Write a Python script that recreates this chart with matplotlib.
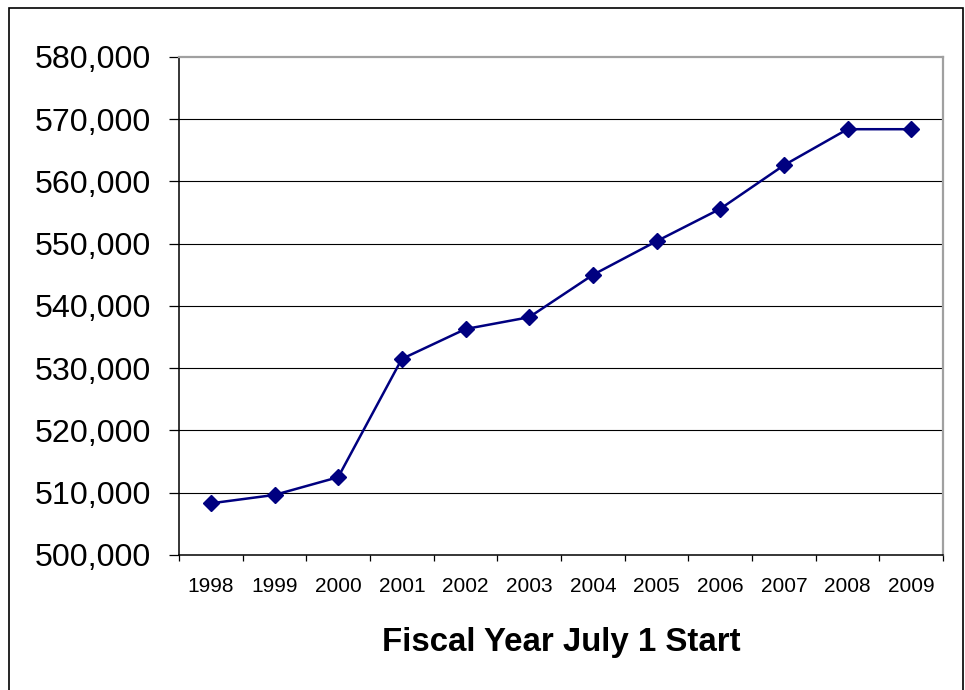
import matplotlib
matplotlib.use("Agg")
import matplotlib.pyplot as plt
from matplotlib.patches import Rectangle
from matplotlib.ticker import FuncFormatter, FixedLocator

plt.rcParams['font.family'] = ['Liberation Sans', 'DejaVu Sans']

years = ['1998', '1999', '2000', '2001', '2002', '2003',
         '2004', '2005', '2006', '2007', '2008', '2009']
enrollment = [508300, 509650, 512500, 531500, 536300, 538200,
              545000, 550400, 555600, 562600, 568400, 568400]
y_ticks = [500000, 510000, 520000, 530000, 540000, 550000, 560000, 570000, 580000]
x_title = 'Fiscal Year July 1 Start'

fig = plt.figure(figsize=(9.65, 6.9), dpi=100)
ax = fig.add_axes([179 / 965, 1 - 555 / 690, (943 - 179) / 965, (555 - 57) / 690])

# outer chart frame (open at the bottom edge of the image)
frame = Rectangle((9 / 965, -0.05), (962.5 - 9) / 965, 1.05 - 7.5 / 690,
                  transform=fig.transFigure, fill=False, edgecolor='black',
                  linewidth=1.2, clip_on=False)
fig.patches.append(frame)

x = list(range(len(years)))
ax.plot(x, enrollment, color='#000080', linewidth=1.8, marker='D',
        markersize=7.8, markerfacecolor='#000080', markeredgecolor='#000080',
        zorder=3)

ax.set_xlim(-0.5, len(years) - 0.5)
ax.set_ylim(y_ticks[0], y_ticks[-1])

ax.set_yticks(y_ticks)
ax.yaxis.set_major_formatter(FuncFormatter(lambda v, p: f'{int(v):,}'))
ax.tick_params(axis='y', direction='out', length=7.2, width=0.9,
               labelsize=23.2, pad=13, colors='black')

# category boundaries get tick marks, labels sit at category centres
ax.xaxis.set_major_locator(FixedLocator([i - 0.5 for i in range(len(years) + 1)]))
ax.xaxis.set_minor_locator(FixedLocator(x))
ax.set_xticklabels([])
ax.set_xticklabels(years, minor=True)
ax.tick_params(axis='x', which='major', direction='out', length=4.5, width=0.9)
ax.tick_params(axis='x', which='minor', length=0, labelsize=15, pad=15.5)

for v in y_ticks[1:-1]:
    ax.axhline(v, color='black', linewidth=0.8, zorder=1)

ax.spines['left'].set_color('black')
ax.spines['left'].set_linewidth(1.1)
ax.spines['bottom'].set_color('black')
ax.spines['bottom'].set_linewidth(1.1)
ax.spines['top'].set_color('#a0a0a0')
ax.spines['top'].set_linewidth(1.6)
ax.spines['right'].set_color('#a0a0a0')
ax.spines['right'].set_linewidth(1.6)

ax.set_xlabel(x_title, fontsize=23.8, fontweight='bold', labelpad=23)

fig.savefig('out.png', dpi=100)
